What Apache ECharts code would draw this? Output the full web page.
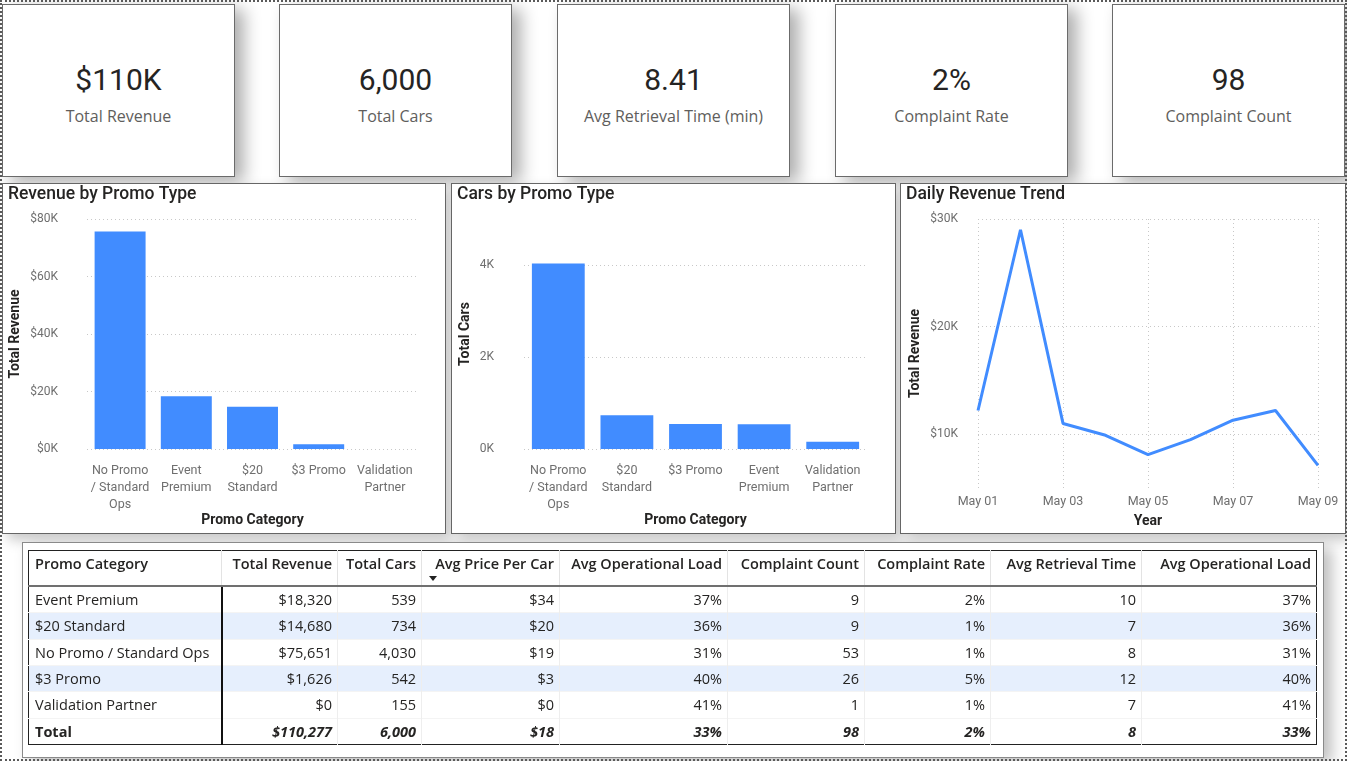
<!DOCTYPE html>
<html>
<head>
<meta charset="utf-8">
<title>Parking Promo Dashboard</title>
<script src="https://cdn.jsdelivr.net/npm/echarts@6/dist/echarts.min.js"></script>
<style>
  html, body { margin: 0; padding: 0; }
  body {
    width: 1347px;
    height: 761px;
    position: relative;
    overflow: hidden;
    background: #fff;
    font-family: 'Open Sans', sans-serif;
  }
  .frame {
    position: absolute;
    left: 0; top: 0;
    width: 1347px; height: 761px;
    box-sizing: border-box;
    border: 2px dotted #5a5a5a;
    pointer-events: none;
    z-index: 20;
  }
  .card {
    position: absolute;
    top: 4px;
    width: 233px;
    height: 173px;
    box-sizing: border-box;
    background: #fff;
    border: 1px solid #6b6b6b;
    box-shadow: 9px 5px 16px rgba(0, 0, 0, 0.32);
    text-align: center;
  }
  .card .val {
    position: absolute;
    left: 0; right: 0; top: 57px;
    font: 30px/36px Roboto, sans-serif;
    color: #252423;
  }
  .card .lbl {
    position: absolute;
    left: 0; right: 0; top: 100px;
    font: 16px/22px 'Open Sans', sans-serif;
    color: #605e5c;
  }
  .panel {
    position: absolute;
    top: 183px;
    height: 351px;
    box-sizing: border-box;
    background: #fff;
    border: 1px solid #666;
    box-shadow: 6px 6px 12px rgba(0, 0, 0, 0.22);
  }
  .panel .chart { width: 100%; height: 100%; }
  .table-panel {
    position: absolute;
    left: 22px; top: 542px;
    width: 1302px; height: 216px;
    box-sizing: border-box;
    background: #fff;
    border: 1px solid #8a8a8a;
    box-shadow: 8px 6px 14px rgba(0, 0, 0, 0.25);
  }
  table {
    position: absolute;
    left: 5px; top: 7px;
    width: 1289px;
    border-collapse: collapse;
    table-layout: fixed;
    font-size: 14.5px;
    color: #252423;
    border: 1px solid #222;
  }
  th, td {
    padding: 0 5px 0 6px;
    white-space: nowrap;
    overflow: hidden;
  }
  th {
    line-height: 18px;
    padding-top: 4px;
    padding-bottom: 12px;
    vertical-align: top;
    font-weight: 600;
    text-align: right;
    border-left: 1px solid #e3e3e3;
    border-bottom: 2px solid #707070;
    position: relative;
  }
  th:first-child { text-align: left; border-left: none; }
  td {
    line-height: 25.33px;
    text-align: right;
    border-left: 1px solid #eeeeee;
    border-top: 1px solid #f4f4f4;
  }
  td:first-child { text-align: left; border-left: none; border-right: 2px solid #111; }
  tr.alt td { background: #e6effd; }
  tr.total td { font-weight: 700; font-style: italic; }
  tr.total td:first-child { font-style: normal; }
  .sort {
    position: absolute;
    left: 7px; top: 25px;
    width: 0; height: 0;
    border-left: 4px solid transparent;
    border-right: 4px solid transparent;
    border-top: 5px solid #222;
  }
</style>
</head>
<body>
<div class="frame"></div>
<div id="cards"></div>
<div class="panel" style="left:2px;width:444px"><div id="revChart" class="chart"></div></div>
<div class="panel" style="left:451px;width:445px"><div id="carChart" class="chart"></div></div>
<div class="panel" style="left:900px;width:446px"><div id="trendChart" class="chart"></div></div>
<div class="table-panel"><table id="promoTable"></table></div>

<script>
// KPI cards
const kpiValues = ['$110K', '6,000', '8.41', '2%', '98']
const kpiLabels = ['Total Revenue', 'Total Cars', 'Avg Retrieval Time (min)', 'Complaint Rate', 'Complaint Count']
const kpiLeft = [2, 279, 557, 835, 1112]

// Revenue by promo type (sorted by revenue)
const revCategories = ['No Promo / Standard Ops', 'Event Premium', '$20 Standard', '$3 Promo', 'Validation Partner']
const revValues = [75651, 18320, 14680, 1626, 0]
const revTicks = [0, 20000, 40000, 60000, 80000]

// Cars by promo type (sorted by cars)
const carCategories = ['No Promo / Standard Ops', '$20 Standard', '$3 Promo', 'Event Premium', 'Validation Partner']
const carValues = [4030, 734, 542, 539, 155]
const carTicks = [0, 2000, 4000]

// Daily revenue trend
const trendDays = ['May 01', 'May 02', 'May 03', 'May 04', 'May 05', 'May 06', 'May 07', 'May 08', 'May 09']
const trendRevenue = [12200, 29000, 11000, 9900, 8100, 9500, 11300, 12200, 7100]
const trendTicks = [10000, 20000, 30000]

// Detail table
const tableHeaders = ['Promo Category', 'Total Revenue', 'Total Cars', 'Avg Price Per Car', 'Avg Operational Load',
  'Complaint Count', 'Complaint Rate', 'Avg Retrieval Time', 'Avg Operational Load']
const tableCategories = ['Event Premium', '$20 Standard', 'No Promo / Standard Ops', '$3 Promo', 'Validation Partner']
const tableRevenue = [18320, 14680, 75651, 1626, 0]
const tableCars = [539, 734, 4030, 542, 155]
const tablePrice = [34, 20, 19, 3, 0]
const tableLoad = [37, 36, 31, 40, 41]
const tableComplaints = [9, 9, 53, 26, 1]
const tableComplaintRate = [2, 1, 1, 5, 1]
const tableRetrieval = [10, 7, 8, 12, 7]
const totalRow = ['Total', '$110,277', '6,000', '$18', '33%', '98', '2%', '8', '33%']
const colWidths = [193, 116, 84, 138, 168, 137, 126, 151, 175]

const BLUE = '#418cff'
const AXIS_GRAY = '#6f6f6f'
const TEXT_DARK = '#252423'
const FONT = 'Roboto, sans-serif'

// cards
const cardsEl = document.getElementById('cards')
kpiValues.forEach((v, i) => {
  const c = document.createElement('div')
  c.className = 'card'
  c.style.left = kpiLeft[i] + 'px'
  c.innerHTML = `<div class="val">${v}</div><div class="lbl">${kpiLabels[i]}</div>`
  cardsEl.appendChild(c)
})

// table
const fmtMoney = (n) => '$' + n.toLocaleString('en-US')
const tbl = document.getElementById('promoTable')
let html = '<colgroup>' + colWidths.map((w) => `<col style="width:${w}px">`).join('') + '</colgroup>'
html += '<tr>' + tableHeaders.map((h, i) =>
  `<th>${h}${i === 3 ? '<span class="sort"></span>' : ''}</th>`).join('') + '</tr>'
tableCategories.forEach((cat, i) => {
  const cells = [
    cat,
    fmtMoney(tableRevenue[i]),
    tableCars[i].toLocaleString('en-US'),
    fmtMoney(tablePrice[i]),
    tableLoad[i] + '%',
    tableComplaints[i],
    tableComplaintRate[i] + '%',
    tableRetrieval[i],
    tableLoad[i] + '%',
  ]
  html += `<tr class="${i % 2 === 1 ? 'alt' : ''}">` + cells.map((c) => `<td>${c}</td>`).join('') + '</tr>'
})
html += '<tr class="total">' + totalRow.map((c) => `<td>${c}</td>`).join('') + '</tr>'
tbl.innerHTML = html

// wrap category names the way the report does (max ~10 chars a line, "/" sticks to the next word)
const wrapLabel = (name) => {
  const tokens = name.replace('/ ', '/\u00a0').split(' ')
  const lines = []
  let cur = ''
  tokens.forEach((t) => {
    const next = cur ? cur + ' ' + t : t
    if (next.length > 10 && cur) {
      lines.push(cur)
      cur = t
    } else {
      cur = next
    }
  })
  if (cur) lines.push(cur)
  return lines.join('\n').replace(/\u00a0/g, ' ')
}

const splitStyle = { color: '#c8c8c8', width: 1, type: [1, 3] }

const titleOpt = (text) => ({
  text,
  left: 5,
  top: 2,
  padding: 0,
  textStyle: { fontFamily: FONT, fontSize: 17.5, fontWeight: 500, color: TEXT_DARK },
})

const barOption = (title, cats, vals, yName, max, interval, yFmt, grid, nameGap) => ({
  animation: false,
  title: titleOpt(title),
  grid,
  xAxis: {
    type: 'category',
    data: cats,
    name: 'Promo Category',
    nameLocation: 'middle',
    nameGap: 64,
    nameMoveOverlap: false,
    nameTextStyle: { fontFamily: FONT, fontSize: 14, fontWeight: 'bold', color: TEXT_DARK },
    axisLine: { show: false },
    axisTick: { show: false },
    axisLabel: {
      interval: 0,
      margin: 13,
      color: AXIS_GRAY,
      fontFamily: FONT,
      fontSize: 12.5,
      lineHeight: 17,
      formatter: wrapLabel,
    },
  },
  yAxis: {
    type: 'value',
    min: 0,
    max,
    interval,
    name: yName,
    nameLocation: 'middle',
    nameGap,
    nameMoveOverlap: false,
    nameTextStyle: { fontFamily: FONT, fontSize: 14, fontWeight: 'bold', color: TEXT_DARK },
    axisLabel: {
      color: AXIS_GRAY,
      fontFamily: FONT,
      fontSize: 12,
      margin: grid.labelMargin,
      showMaxLabel: grid.showMax,
      formatter: yFmt,
    },
    splitLine: { lineStyle: splitStyle, showMaxLine: grid.showMax },
  },
  series: [
    {
      type: 'bar',
      data: vals,
      barCategoryGap: '23%',
      itemStyle: { color: BLUE },
    },
  ],
})

const revChart = echarts.init(document.getElementById('revChart'))
revChart.setOption(barOption(
  'Revenue by Promo Type', revCategories, revValues, 'Total Revenue',
  revTicks[revTicks.length - 1], revTicks[1] - revTicks[0],
  (v) => '$' + v / 1000 + 'K',
  { left: 84, right: 27, top: 35, bottom: 84, outerBoundsMode: 'none', labelMargin: 29, showMax: true },
  65
))

const carChart = echarts.init(document.getElementById('carChart'))
carChart.setOption(barOption(
  'Cars by Promo Type', carCategories, carValues, 'Total Cars',
  5000, carTicks[1] - carTicks[0],
  (v) => v / 1000 + 'K',
  { left: 72, right: 28, top: 35, bottom: 84, outerBoundsMode: 'none', labelMargin: 30, showMax: false },
  52
))

const trendChart = echarts.init(document.getElementById('trendChart'))
trendChart.setOption({
  animation: false,
  title: titleOpt('Daily Revenue Trend'),
  grid: { left: 77, right: 27, top: 35, bottom: 45, outerBoundsMode: 'none' },
  xAxis: {
    type: 'category',
    data: trendDays,
    boundaryGap: false,
    name: 'Year',
    nameLocation: 'middle',
    nameGap: 26,
    nameTextStyle: { fontFamily: FONT, fontSize: 14, fontWeight: 'bold', color: TEXT_DARK },
    axisLine: { show: false },
    axisTick: { show: false },
    axisLabel: { interval: 1, margin: 7, color: AXIS_GRAY, fontFamily: FONT, fontSize: 12.5 },
    splitLine: { show: true, interval: 1, lineStyle: splitStyle },
  },
  yAxis: {
    type: 'value',
    min: 5000,
    max: 30000,
    name: 'Total Revenue',
    nameLocation: 'middle',
    nameGap: 56,
    nameMoveOverlap: false,
    nameTextStyle: { fontFamily: FONT, fontSize: 14, fontWeight: 'bold', color: TEXT_DARK },
    axisTick: { show: false, customValues: trendTicks },
    axisLabel: {
      customValues: trendTicks,
      color: AXIS_GRAY,
      fontFamily: FONT,
      fontSize: 12,
      margin: 20,
      formatter: (v) => '$' + v / 1000 + 'K',
    },
    splitLine: { lineStyle: splitStyle },
  },
  series: [
    {
      type: 'line',
      data: trendRevenue,
      symbol: 'none',
      lineStyle: { color: BLUE, width: 3 },
    },
  ],
})
</script>
</body>
</html>
